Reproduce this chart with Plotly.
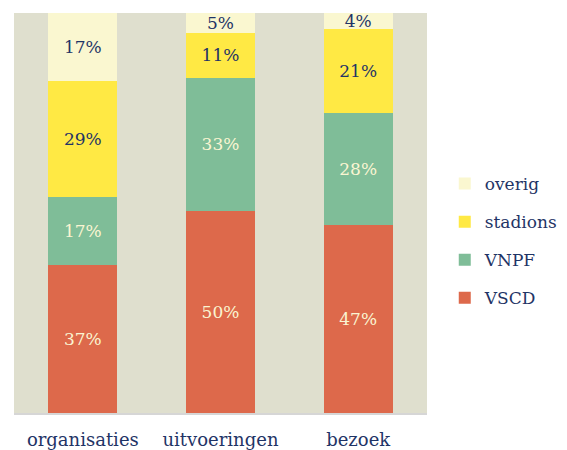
import plotly.graph_objects as go

categories = ["organisaties", "uitvoeringen", "bezoek"]
vscd = [37, 50, 47]
vnpf = [17, 33, 28]
stadions = [29, 11, 21]
overig = [17, 5, 4]

series = [
    ("VSCD", vscd, "#DD694B", "#FAF5D2", 4),
    ("VNPF", vnpf, "#7FBD98", "#FAF5D2", 3),
    ("stadions", stadions, "#FFE944", "#1F3466", 2),
    ("overig", overig, "#FAF7D0", "#1F3466", 1),
]

fig = go.Figure()
for name, vals, col, tcol, rank in series:
    fig.add_trace(go.Bar(
        x=categories, y=vals, name=name,
        marker=dict(color=col, line=dict(width=0)),
        text=[f"{v}%" for v in vals],
        textposition="inside", insidetextanchor="middle",
        constraintext="none",
        textfont=dict(family="DejaVu Serif", size=17, color=tcol),
        legendgroup=name, legendrank=rank,
        hoverinfo="skip",
    ))

fig.update_layout(
    width=567, height=450,
    barmode="stack", barnorm="percent", bargap=0.5,
    margin=dict(l=6, r=148, t=5, b=45, autoexpand=False),
    plot_bgcolor="#DFDFCE", paper_bgcolor="white",
    font=dict(family="DejaVu Serif", color="#1F3466"),
    showlegend=True,
    legend=dict(
        x=1.043, y=0.43, xanchor="left", yanchor="middle",
        traceorder="grouped", tracegroupgap=13,
        font=dict(size=17, color="#1F3466"),
        itemwidth=30,
    ),
    xaxis=dict(
        range=[-0.5, 2.5], showgrid=False, ticks="",
        tickfont=dict(size=18, color="#1F3466"),
        showline=True, linecolor="#D6D6D6", linewidth=2,
        ticklabelstandoff=9,
    ),
    yaxis=dict(range=[0, 100], showgrid=False, showticklabels=False,
               zeroline=False, fixedrange=True),
)

fig.write_html("out.html")
